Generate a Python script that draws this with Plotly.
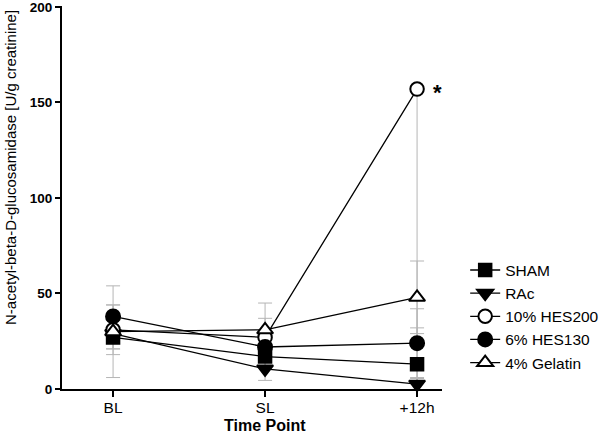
import plotly.graph_objects as go

time_points = ["BL", "SL", "+12h"]
series_names = ["SHAM", "RAc", "10% HES200", "6% HES130", "4% Gelatin"]
sham = [27, 17, 13]
rac = [29, 10.5, 2.5]
hes200 = [31, 27, 157]
hes130 = [38, 22, 24]
gelatin = [30, 31, 48]
sham_err = [6, 5, 19]
rac_err = [8, 6, 3]
hes200_err_plus = [13, 10, 0]
hes200_err_minus = [13, 10, 160]
hes130_err = [6, 6, 18]
gelatin_err = [24, 14, 19]

xpos = [0, 1, 2]
values = [sham, rac, hes200, hes130, gelatin]
err_plus = [sham_err, rac_err, hes200_err_plus, hes130_err, gelatin_err]
err_minus = [sham_err, rac_err, hes200_err_minus, hes130_err, gelatin_err]
symbols = ["square", "triangle-down", "circle", "circle", "triangle-up"]
fills = ["black", "black", "white", "black", "white"]
sizes = [12.5, 14, 13.5, 14, 14]

fig = go.Figure()
for v, ep, em in zip(values, err_plus, err_minus):
    fig.add_trace(go.Scatter(
        x=xpos, y=v, mode="markers", marker=dict(size=0.1, color="rgba(0,0,0,0)"),
        error_y=dict(type="data", array=ep, arrayminus=em, color="#b5b5b5", thickness=1, width=7),
        showlegend=False, hoverinfo="skip"))
for name, v, s, f, sz in zip(series_names, values, symbols, fills, sizes):
    fig.add_trace(go.Scatter(
        x=xpos, y=v, mode="lines+markers", name=name,
        line=dict(color="black", width=1.3),
        marker=dict(symbol=s, size=sz, color=f, line=dict(color="black", width=2)),
        cliponaxis=False))

fig.add_annotation(x=2, y=hes200[2], text="<b>*</b>", showarrow=False, xshift=20, yshift=-3,
                   font=dict(size=22, color="black", family="Liberation Sans"))
fig.add_annotation(xref="x", yref="paper", x=1, y=0, yshift=-36, yanchor="middle",
                   text="<b>Time Point</b>", showarrow=False,
                   font=dict(size=16, color="black", family="Liberation Sans"))
fig.add_annotation(xref="paper", yref="paper", x=0, xshift=-52, y=0.577, xanchor="center",
                   yanchor="middle", textangle=-90,
                   text="N-acetyl-beta-D-glucosamidase [U/g creatinine]", showarrow=False,
                   font=dict(size=15, color="black", family="Liberation Sans"))

fig.update_layout(
    width=600, height=433,
    margin=dict(l=62, r=158, t=6, b=44, autoexpand=False),
    plot_bgcolor="white", paper_bgcolor="white",
    font=dict(family="Liberation Sans, Arial", color="black"),
    legend=dict(x=1.061, y=0.354, xanchor="left", yanchor="top",
                font=dict(size=15.5), tracegroupgap=0, itemwidth=30,
                bgcolor="rgba(0,0,0,0)"),
    xaxis=dict(range=[-0.336, 2.164], tickvals=xpos, ticktext=time_points, automargin=False,
               showgrid=False, zeroline=False, showline=True, linecolor="black", linewidth=2,
               ticks="outside", ticklen=6, tickwidth=2, tickcolor="black",
               tickfont=dict(size=15.5), ticklabeloverflow="allow", ticklabelstandoff=-3),
    yaxis=dict(range=[0, 200.5], tickvals=[0, 50, 100, 150, 200], automargin=False,
               ticktext=["<b>0</b>", "<b>50</b>", "<b>100</b>", "<b>150</b>", "<b>200</b>"],
               showgrid=False, zeroline=False, showline=True, linecolor="black", linewidth=2,
               ticks="outside", ticklen=5, tickwidth=2, tickcolor="black",
               tickfont=dict(size=13.5), ticklabeloverflow="allow"),
)
fig.write_html("out.html", config={"displayModeBar": False},
               post_script="document.body.style.margin='0';document.body.style.overflow='hidden';")
